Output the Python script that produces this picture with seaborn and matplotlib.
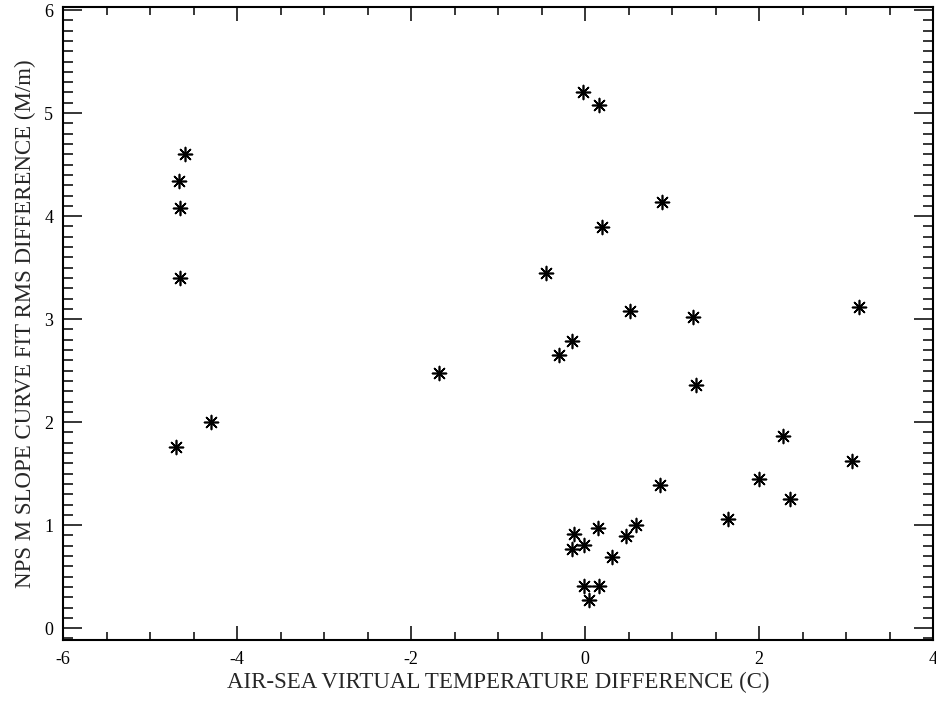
import seaborn as sns
import matplotlib.pyplot as plt
from matplotlib.ticker import MultipleLocator

# Air-sea virtual temperature difference (C)
dt_air_sea = [-4.60, -4.67, -4.66, -4.65, -4.70, -4.30,
              -1.68, -0.45, -0.15, -0.30,
              -0.02, 0.16, 0.20, 0.88, 0.52, 1.24, 1.28, 3.15,
              2.28, 3.07, 2.00, 2.36, 0.86, 1.64,
              -0.13, -0.15, -0.01, 0.15, 0.47, 0.59, 0.31,
              -0.01, 0.16, 0.05]

# NPS M slope curve fit RMS difference (M/m)
rms_diff = [4.60, 4.34, 4.08, 3.40, 1.76, 2.00,
            2.48, 3.45, 2.79, 2.65,
            5.20, 5.08, 3.89, 4.14, 3.08, 3.02, 2.36, 3.12,
            1.87, 1.62, 1.45, 1.25, 1.39, 1.06,
            0.91, 0.77, 0.81, 0.97, 0.89, 1.00, 0.69,
            0.41, 0.41, 0.27]

sns.set_style("ticks")
plt.rcParams['font.family'] = ['Liberation Serif', 'DejaVu Serif']
plt.rcParams['axes.unicode_minus'] = False

fig = plt.figure(figsize=(9.36, 7.08), dpi=100)
ax = fig.add_axes([63 / 936, 1 - 640 / 708, 870 / 936, 633 / 708])

sns.scatterplot(x=dt_air_sea, y=rms_diff, marker=(8, 2, 0), color="black",
                s=100, linewidth=1.2, ax=ax)

ax.set_xlim(-6, 4)
ax.set_ylim(-0.115, 6.03)
ax.xaxis.set_major_locator(MultipleLocator(2))
ax.xaxis.set_minor_locator(MultipleLocator(0.5))
ax.yaxis.set_major_locator(MultipleLocator(1))
ax.yaxis.set_minor_locator(MultipleLocator(0.1))

ax.tick_params(axis='both', which='both', direction='in', top=True, right=True,
               colors='black', labelsize=13, width=1.1)
ax.tick_params(axis='x', which='major', length=10, pad=8)
ax.tick_params(axis='x', which='minor', length=6)
ax.tick_params(axis='y', which='major', length=14, pad=7)
ax.tick_params(axis='y', which='minor', length=7)
for sp in ax.spines.values():
    sp.set_linewidth(1.5)
    sp.set_color('black')

ax.set_xlabel('AIR-SEA VIRTUAL TEMPERATURE DIFFERENCE (C)', fontsize=16.5, labelpad=3)
ax.set_ylabel('NPS M SLOPE CURVE FIT RMS DIFFERENCE (M/m)', fontsize=16.5, labelpad=6)

fig.savefig("out.png", dpi=100)
